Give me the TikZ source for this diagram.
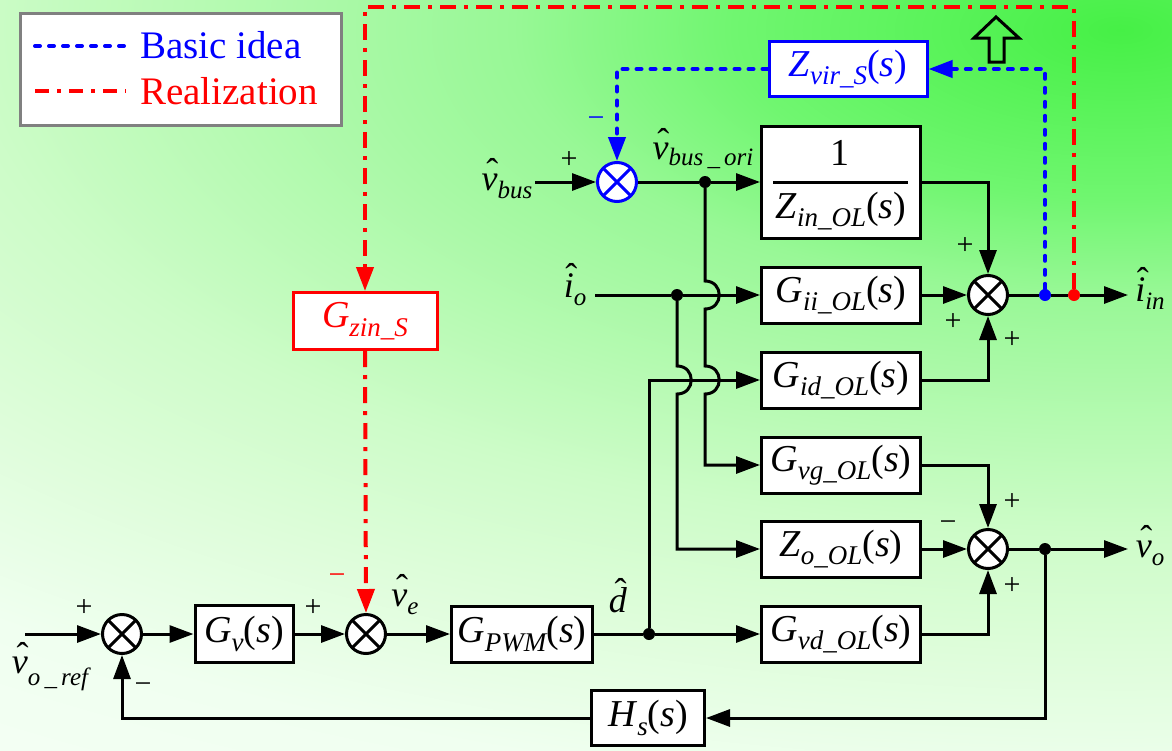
\documentclass[tikz,border=0pt]{standalone}
\usepackage{fontspec}
\setmainfont{Liberation Serif}
\usetikzlibrary{arrows.meta}
\definecolor{bgA}{RGB}{70,240,70}
\definecolor{bgB}{RGB}{112,246,112}
\definecolor{bgC}{RGB}{152,248,150}
\definecolor{bgD}{RGB}{184,250,180}
\definecolor{bgE}{RGB}{205,252,200}
\definecolor{bgF}{RGB}{222,253,218}
\definecolor{bgG}{RGB}{240,255,240}
\definecolor{bgH}{RGB}{246,255,246}
\definecolor{legg}{RGB}{128,128,128}
\definecolor{myblue}{RGB}{0,0,255}
\definecolor{myred}{RGB}{255,0,0}
\pgfdeclareradialshading{bgshade}{\pgfpointorigin}{color(0bp)=(bgA); color(4.4bp)=(bgB); color(6.9bp)=(bgC); color(10.6bp)=(bgD); color(13.1bp)=(bgE); color(16.25bp)=(bgF); color(20bp)=(bgG); color(25bp)=(bgH); color(50bp)=(bgH)}
\newcommand\fs{\fontsize{38}{42}\selectfont}
\newcommand\fl{\fontsize{36}{40}\selectfont}
\newcommand\fsg{\fontsize{30}{30}\selectfont}
\newcommand\sbs[2][-0.22em]{\raisebox{#1}{\fontsize{27}{27}\selectfont\itshape #2}}
\newcommand\sbl[2][-0.22em]{\raisebox{#1}{\fontsize{25}{25}\selectfont\itshape #2}}
\newcommand\hatx[2]{\ooalign{#2\cr\hidewidth\hspace{0.15em}\raisebox{#1}{\char"02C6}\hidewidth\cr}}
\newcommand\tfn[2]{\textit{#1}\sbs{#2}(\textit{s})}
\newcommand\mminus{\char"2212}
\tikzset{
  wire/.style={line width=3pt},
  arr/.style={-{Triangle[length=24pt,width=17pt]}},
  blk/.style={draw, line width=3pt, fill=white, inner sep=0pt, font=\fs},
  sumn/.style={circle, draw, line width=3pt, fill=white, minimum size=39pt, inner sep=0pt,
    path picture={\draw[line width=3pt] (path picture bounding box.south west) -- (path picture bounding box.north east)
      (path picture bounding box.north west) -- (path picture bounding box.south east);}},
  jdot/.style={circle, fill, minimum size=12pt, inner sep=0pt},
  lab/.style={inner sep=0pt, font=\fl},
  sgn/.style={inner sep=0pt, font=\fsg},
  bluedot/.style={myblue, line width=4pt, line cap=round, dash pattern=on 5pt off 9pt},
  reddd/.style={myred, line width=4pt, dash pattern=on 16pt off 8pt on 4pt off 8pt},
}
\begin{document}
\begin{tikzpicture}[x=1pt,y=-1pt]
\useasboundingbox (0,0) rectangle (1172,750);
\begin{scope}
\clip (0,0) rectangle (1172,750);
\shade[shading=bgshade] (1120,30) ellipse [x radius=2200, y radius=960];
\end{scope}

% legend
\node[draw=legg, line width=3pt, fill=white, minimum width=321pt, minimum height=112pt, inner sep=0pt] (legend) at (180.5,69) {};
\coordinate (lb1) at (35,46); \coordinate (lb2) at (126,46);
\coordinate (lr1) at (35,91); \coordinate (lr2) at (126,91);
\draw[bluedot] (lb1) -- (lb2);
\draw[reddd, dash pattern=on 14pt off 8pt on 4pt off 8pt] (lr1) -- (lr2);
\node[inner sep=0pt, font=\fontsize{39}{42}\selectfont, anchor=base west, text=myblue] (legb) at (140,58) {Basic idea};
\node[inner sep=0pt, font=\fontsize{39}{42}\selectfont, anchor=base west, text=myred] (legr) at (140,104) {Realization};

% blocks
\node[sumn] (sum1) at (122,634) {};
\node[blk, minimum width=98pt, minimum height=57pt] (gv) at (244,634) {\tfn{G}{v}};
\node[sumn] (sum2) at (366,634) {};
\node[blk, minimum width=141pt, minimum height=56pt] (gpwm) at (522,634) {\tfn{G}{PWM}};
\node[blk, minimum width=159pt, minimum height=56pt] (gvd) at (841,634) {\tfn{G}{vd\_OL}};
\node[blk, minimum width=159pt, minimum height=56pt] (zo) at (841,549) {\tfn{Z}{o\_OL}};
\node[blk, minimum width=159pt, minimum height=56pt] (gvg) at (841,465) {\tfn{G}{vg\_OL}};
\node[blk, minimum width=159pt, minimum height=56pt] (gid) at (841,380) {\tfn{G}{id\_OL}};
\node[blk, minimum width=159pt, minimum height=56pt] (gii) at (841,295) {\tfn{G}{ii\_OL}};
\node[blk, minimum width=159pt, minimum height=112pt] (zin) at (841,182) {};
\node[inner sep=0pt, font=\fs] (zin1) at (840,153) {1};
\coordinate (fr1) at (773,182); \coordinate (fr2) at (908,182);
\draw[wire] (fr1) -- (fr2);
\node[inner sep=0pt, font=\fs] (zinz) at (841,211) {\tfn{Z}{in\_OL}};
\node[sumn] (sum3) at (988,295) {};
\node[sumn] (sum4) at (988,549) {};
\node[blk, minimum width=113pt, minimum height=55pt] (hs) at (648,718) {\tfn{H}{s}};
\node[sumn, draw=myblue, path picture={\draw[myblue, line width=3pt] (path picture bounding box.south west) -- (path picture bounding box.north east)
      (path picture bounding box.north west) -- (path picture bounding box.south east);}] (sum0) at (617,182) {};
\node[blk, draw=myred, text=myred, minimum width=144pt, minimum height=57pt] (gzin) at (365,321) {\textit{G}\sbs{zin\_S}};
\node[blk, draw=myblue, text=myblue, minimum width=158pt, minimum height=55pt] (zvir) at (848,69) {\textit{Z}\sbs{vir\_S}(\textit{s})};

% junctions
\node[jdot] (jd) at (649,634) {};
\node[jdot] (jo) at (677,295) {};
\node[jdot] (jb) at (705,182) {};
\node[jdot] (jv) at (1045,549) {};
\node[jdot, myblue] (jblue) at (1045,295) {};
\node[jdot, myred] (jred) at (1074,295) {};
\coordinate (vrefstart) at (25,634);
\coordinate (vbusstart) at (535,182);
\coordinate (iostart) at (595,295);
\coordinate (iinend) at (1128,295);
\coordinate (voend) at (1128,549);

% wires
\draw[wire,arr] (vrefstart) -- (sum1.west);
\draw[wire,arr] (sum1.east) -- (gv.west);
\draw[wire,arr] (gv.east) -- (sum2.west);
\draw[wire,arr] (sum2.east) -- (gpwm.west);
\draw[wire] (gpwm.east) -- (jd);
\draw[wire,arr] (jd) -- (gvd.west);
\draw[wire,arr] (jd) |- (gid.west);
\draw[wire,arr] (gvd.east) -| (sum4.south);
\draw[wire,arr] (zo.east) -- (sum4.west);
\draw[wire,arr] (gvg.east) -| (sum4.north);
\draw[wire] (sum4.east) -- (jv);
\draw[wire,arr] (jv) -- (voend);
\draw[wire,arr] (jv) |- (hs.east);
\draw[wire,arr] (hs.west) -| (sum1.south);
\draw[wire,arr] (vbusstart) -- (sum0.west);
\draw[wire] (sum0.east) -- (jb);
\draw[wire,arr] (jb) -- (zin.west);
\draw[wire,arr] (zin.east) -| (sum3.north);
\draw[wire] (iostart) -- (jo);
\draw[wire,arr] (jo) -- (gii.west);
\draw[wire,arr] (gii.east) -- (sum3.west);
\draw[wire,arr] (gid.east) -| (sum3.south);
\draw[wire] (sum3.east) -- (jblue) -- (jred);
\draw[wire,arr] (jred) -- (iinend);
\draw[wire,arr] (jb) -- (705,281) .. controls (724,281) and (724,309) .. (705,309) -- (705,366) .. controls (724,366) and (724,394) .. (705,394) |- (gvg.west);
\draw[wire,arr] (jo) -- (677,366) .. controls (696,366) and (696,394) .. (677,394) |- (zo.west);

% feedback paths
\draw[reddd, arr] (jred) -- (1074,7) -| (gzin.north);
\draw[reddd, arr] (gzin.south) -- (sum2.north);
\draw[bluedot, arr] (jblue) |- (zvir.east);
\draw[bluedot, arr] (zvir.west) -| (sum0.north);
\draw[line width=3pt, line join=miter] (996,17) -- (1019,38) -- (1004,38) -- (1004,62) -- (989,62) -- (989,38) -- (974,38) -- cycle;

% signal labels
\node[lab] (lvbus) at (507,186) {\hatx{0.18em}{\textit{v}}\sbl{bus}};
\node[lab] (lvbusori) at (703,156) {\hatx{0.18em}{\textit{v}}\sbl[-0.15em]{bus\,\_\,ori}};
\node[lab] (lio) at (575,290) {\hatx{0.26em}{\textit{i}}\sbl{o}};
\node[lab] (liin) at (1150,294) {\hatx{0.26em}{\textit{i}}\sbl{in}};
\node[lab] (lvo) at (1150,553) {\hatx{0.18em}{\textit{v}}\sbl{o}};
\node[lab] (lvref) at (50,674) {\hatx{0.18em}{\textit{v}}\sbl[-0.32em]{o\,\_\,ref}};
\node[lab] (lve) at (405,602) {\hatx{0.18em}{\textit{v}}\sbl{e}};
\node[lab] (ld) at (618,600) {\hatx{0.26em}{\textit{d}}};

% signs
\node[sgn] (s1p) at (84,608) {+};
\node[sgn] (s1m) at (143,688) {\mminus};
\node[sgn] (s2p) at (313,608) {+};
\node[sgn, text=myred] (s2m) at (337,579) {\mminus};
\node[sgn] (s0p) at (569,160) {+};
\node[sgn, text=myblue] (s0m) at (596,122) {\mminus};
\node[sgn] (s3t) at (965,246) {+};
\node[sgn] (s3l) at (953,322) {+};
\node[sgn] (s3b) at (1012,340) {+};
\node[sgn] (s4t) at (1012,502) {+};
\node[sgn] (s4l) at (948,526) {\mminus};
\node[sgn] (s4b) at (1012,586) {+};
\end{tikzpicture}
\end{document}
